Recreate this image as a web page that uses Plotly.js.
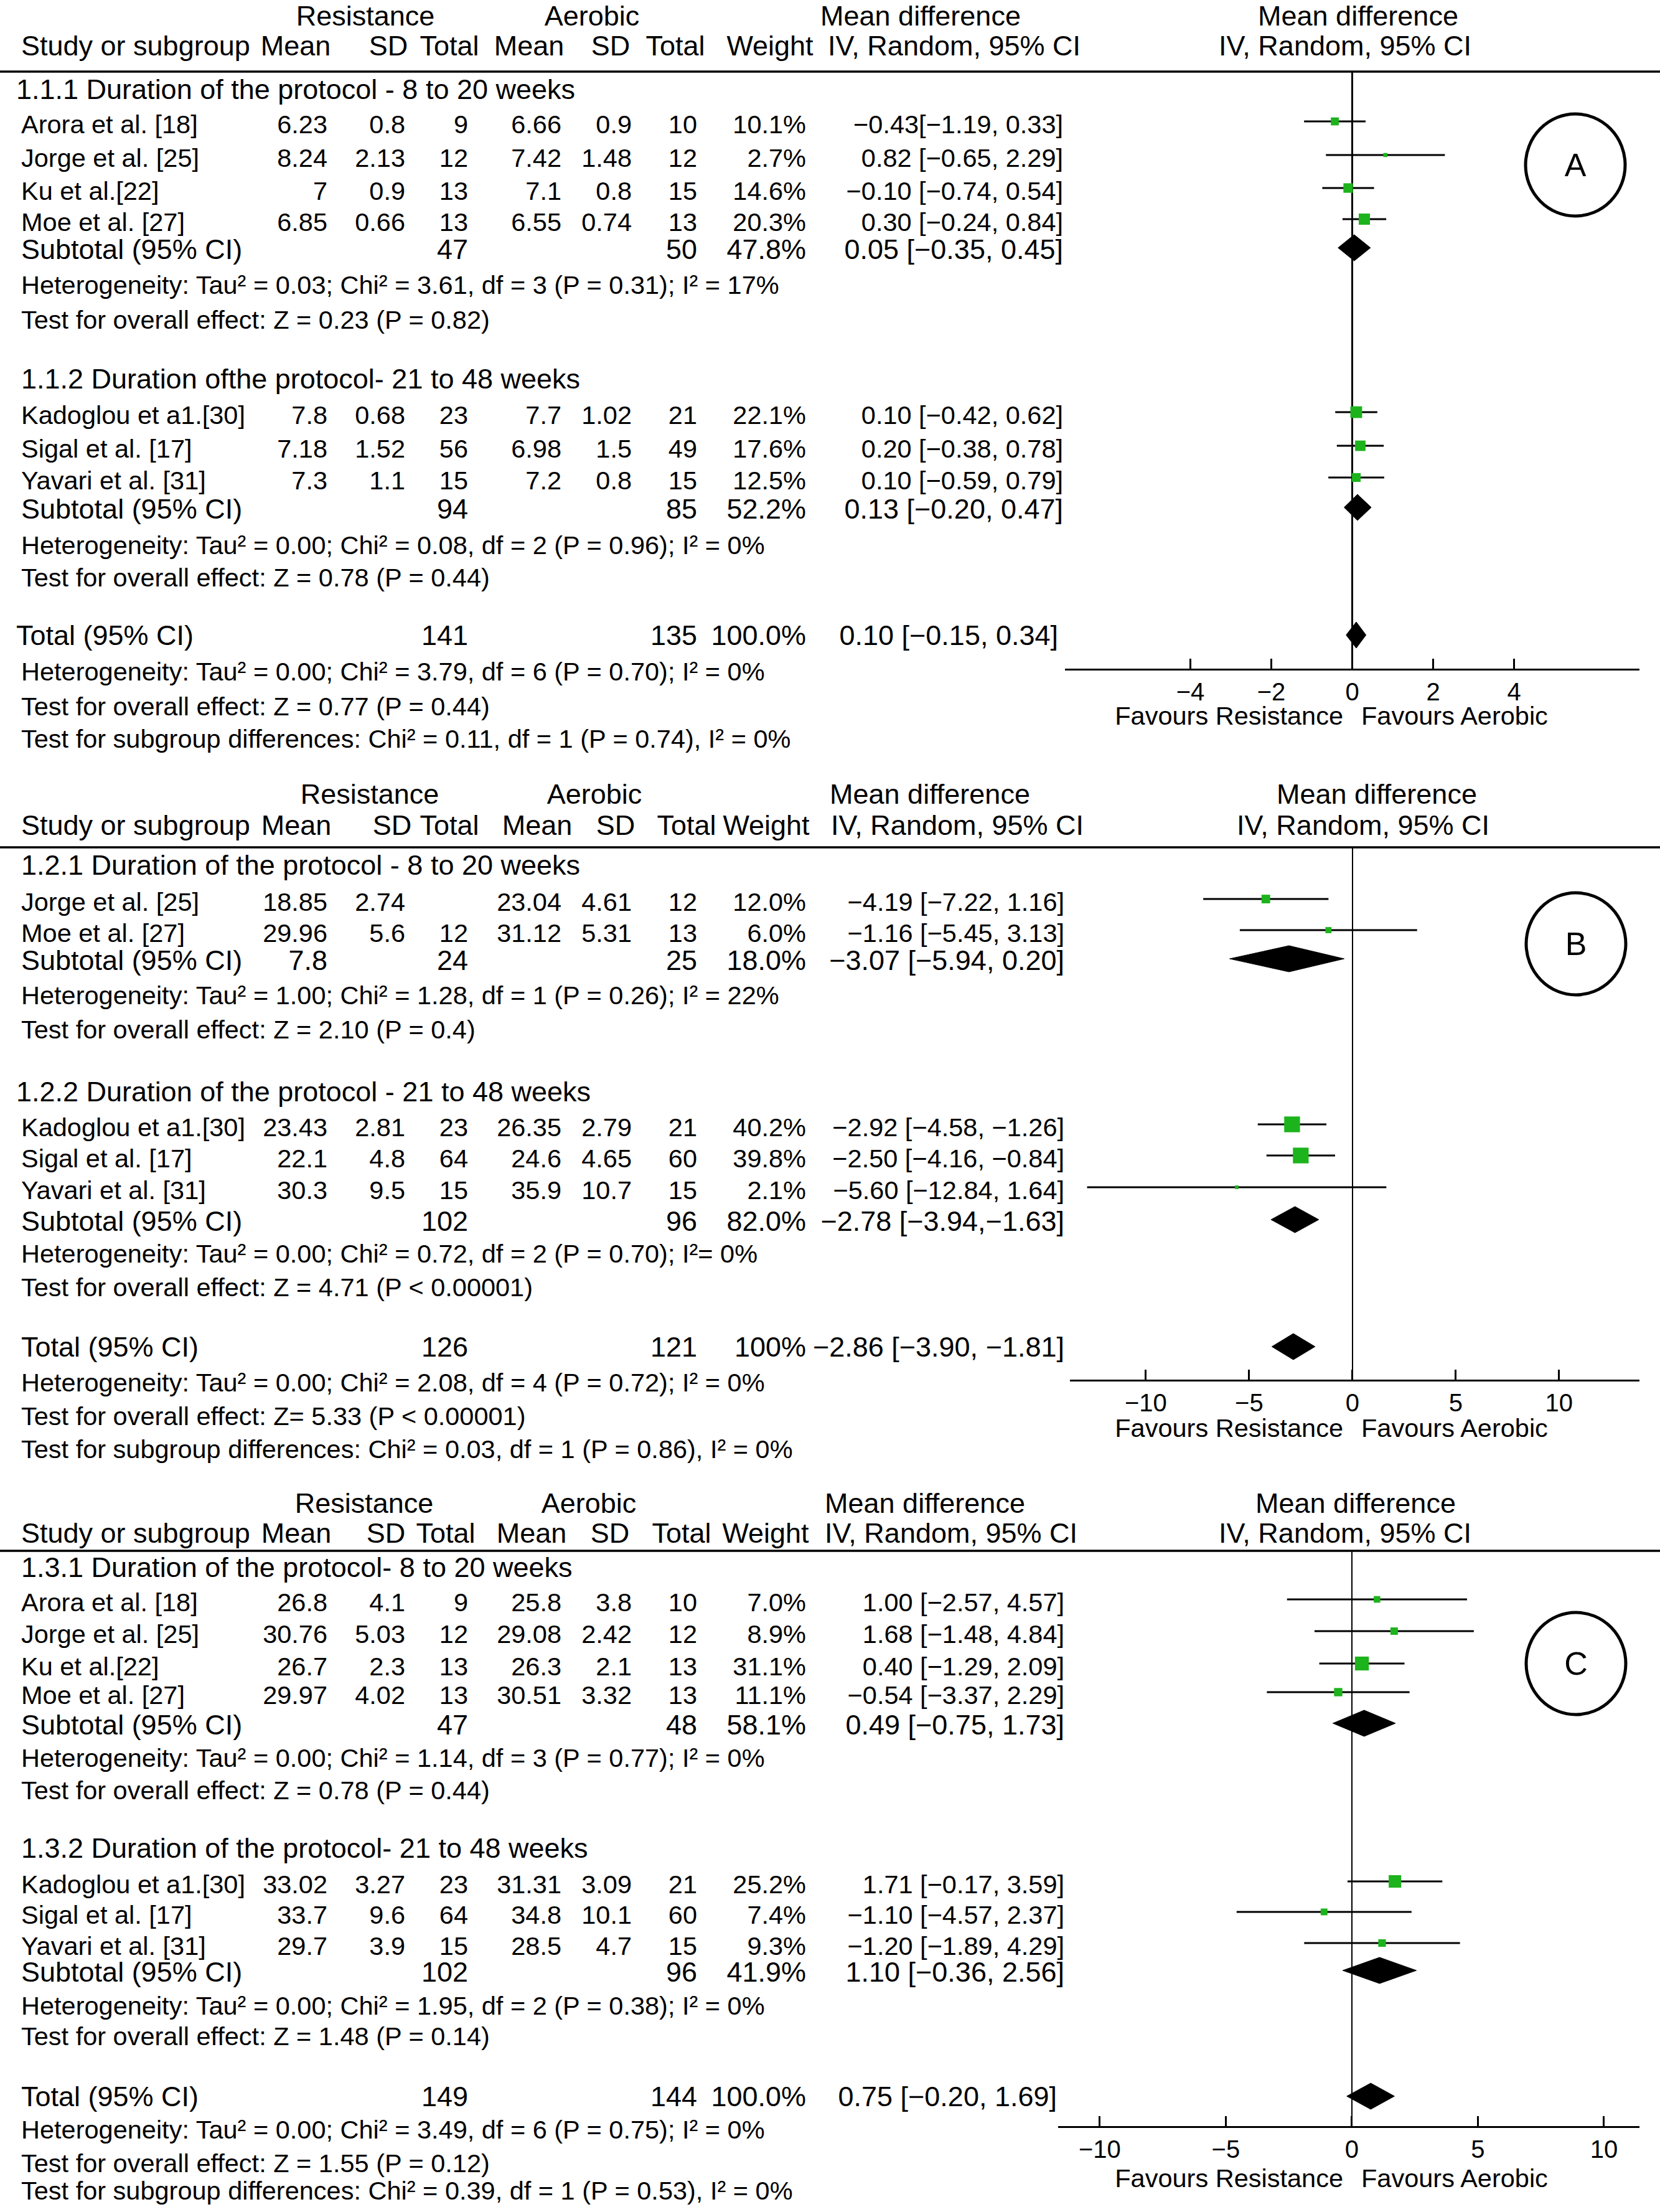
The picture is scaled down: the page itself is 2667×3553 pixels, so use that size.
<!DOCTYPE html>
<html><head><meta charset="utf-8">
<script src="https://cdn.plot.ly/plotly-3.0.1.min.js"></script>
<style>html,body{margin:0;padding:0;background:#fff}</style>
</head><body><div id="chart" style="width:2667px;height:3553px"></div>
<script>
const M = '\u2212';
// ---------------- DATA ----------------
const groupLabels = ['Resistance', 'Aerobic'];
const colHeaders = ['Study or subgroup', 'Mean', 'SD', 'Total', 'Mean', 'SD', 'Total', 'Weight', 'IV, Random, 95% CI'];
const mdHeader = ['Mean difference', 'IV, Random, 95% CI'];
const favourLabels = ['Favours Resistance', 'Favours Aerobic'];
const panelLetters = ['A', 'B', 'C'];
const ticksA = [-4, -2, 0, 2, 4];
const ticksB = [-10, -5, 0, 5, 10];
const ticksC = [-10, -5, 0, 5, 10];

// ----- Panel A (1.1) -----
const a1Title = '1.1.1 Duration of the protocol - 8 to 20 weeks';
const a1Study = ['Arora et al. [18]', 'Jorge et al. [25]', 'Ku et al.[22]', 'Moe et al. [27]'];
const a1ResMean = ['6.23', '8.24', '7', '6.85'];
const a1ResSD = ['0.8', '2.13', '0.9', '0.66'];
const a1ResN = ['9', '12', '13', '13'];
const a1AerMean = ['6.66', '7.42', '7.1', '6.55'];
const a1AerSD = ['0.9', '1.48', '0.8', '0.74'];
const a1AerN = ['10', '12', '15', '13'];
const a1Weight = ['10.1%', '2.7%', '14.6%', '20.3%'];
const a1CI = [M+'0.43['+M+'1.19, 0.33]', '0.82 ['+M+'0.65, 2.29]', M+'0.10 ['+M+'0.74, 0.54]', '0.30 ['+M+'0.24, 0.84]'];
const a1MD = [-0.43, 0.82, -0.10, 0.30];
const a1Lo = [-1.19, -0.65, -0.74, -0.24];
const a1Hi = [0.33, 2.29, 0.54, 0.84];
const a1Sub = ['', '47', '50', '47.8%', '0.05 ['+M+'0.35, 0.45]'];
const a1SubMD = [-0.35, 0.05, 0.45];
const a1Het = 'Heterogeneity: Tau\u00b2 = 0.03; Chi\u00b2 = 3.61, df = 3 (P = 0.31); I\u00b2 = 17%';
const a1Test = 'Test for overall effect: Z = 0.23 (P = 0.82)';

const a2Title = '1.1.2 Duration ofthe protocol- 21 to 48 weeks';
const a2Study = ['Kadoglou et a1.[30]', 'Sigal et al. [17]', 'Yavari et al. [31]'];
const a2ResMean = ['7.8', '7.18', '7.3'];
const a2ResSD = ['0.68', '1.52', '1.1'];
const a2ResN = ['23', '56', '15'];
const a2AerMean = ['7.7', '6.98', '7.2'];
const a2AerSD = ['1.02', '1.5', '0.8'];
const a2AerN = ['21', '49', '15'];
const a2Weight = ['22.1%', '17.6%', '12.5%'];
const a2CI = ['0.10 ['+M+'0.42, 0.62]', '0.20 ['+M+'0.38, 0.78]', '0.10 ['+M+'0.59, 0.79]'];
const a2MD = [0.10, 0.20, 0.10];
const a2Lo = [-0.42, -0.38, -0.59];
const a2Hi = [0.62, 0.78, 0.79];
const a2Sub = ['', '94', '85', '52.2%', '0.13 ['+M+'0.20, 0.47]'];
const a2SubMD = [-0.20, 0.13, 0.47];
const a2Het = 'Heterogeneity: Tau\u00b2 = 0.00; Chi\u00b2 = 0.08, df = 2 (P = 0.96); I\u00b2 = 0%';
const a2Test = 'Test for overall effect: Z = 0.78 (P = 0.44)';

const aTotal = ['141', '135', '100.0%', '0.10 ['+M+'0.15, 0.34]'];
const aTotalMD = [-0.15, 0.10, 0.34];
const aTotHet = 'Heterogeneity: Tau\u00b2 = 0.00; Chi\u00b2 = 3.79, df = 6 (P = 0.70); I\u00b2 = 0%';
const aTotTest = 'Test for overall effect: Z = 0.77 (P = 0.44)';
const aSubgrp = 'Test for subgroup differences: Chi\u00b2 = 0.11, df = 1 (P = 0.74), I\u00b2 = 0%';

// ----- Panel B (1.2) -----
const b1Title = '1.2.1 Duration of the protocol - 8 to 20 weeks';
const b1Study = ['Jorge et al. [25]', 'Moe et al. [27]'];
const b1ResMean = ['18.85', '29.96'];
const b1ResSD = ['2.74', '5.6'];
const b1ResN = ['', '12'];
const b1AerMean = ['23.04', '31.12'];
const b1AerSD = ['4.61', '5.31'];
const b1AerN = ['12', '13'];
const b1Weight = ['12.0%', '6.0%'];
const b1CI = [M+'4.19 ['+M+'7.22, 1.16]', M+'1.16 ['+M+'5.45, 3.13]'];
const b1MD = [-4.19, -1.16];
const b1Lo = [-7.22, -5.45];
const b1Hi = [-1.16, 3.13];
const b1Sub = ['7.8', '24', '25', '18.0%', M+'3.07 ['+M+'5.94, 0.20]'];
const b1SubMD = [-5.94, -3.07, -0.40];
const b1Het = 'Heterogeneity: Tau\u00b2 = 1.00; Chi\u00b2 = 1.28, df = 1 (P = 0.26); I\u00b2 = 22%';
const b1Test = 'Test for overall effect: Z = 2.10 (P = 0.4)';

const b2Title = '1.2.2 Duration of the protocol - 21 to 48 weeks';
const b2Study = ['Kadoglou et a1.[30]', 'Sigal et al. [17]', 'Yavari et al. [31]'];
const b2ResMean = ['23.43', '22.1', '30.3'];
const b2ResSD = ['2.81', '4.8', '9.5'];
const b2ResN = ['23', '64', '15'];
const b2AerMean = ['26.35', '24.6', '35.9'];
const b2AerSD = ['2.79', '4.65', '10.7'];
const b2AerN = ['21', '60', '15'];
const b2Weight = ['40.2%', '39.8%', '2.1%'];
const b2CI = [M+'2.92 ['+M+'4.58, '+M+'1.26]', M+'2.50 ['+M+'4.16, '+M+'0.84]', M+'5.60 ['+M+'12.84, 1.64]'];
const b2MD = [-2.92, -2.50, -5.60];
const b2Lo = [-4.58, -4.16, -12.84];
const b2Hi = [-1.26, -0.84, 1.64];
const b2Sub = ['', '102', '96', '82.0%', M+'2.78 ['+M+'3.94,'+M+'1.63]'];
const b2SubMD = [-3.94, -2.78, -1.63];
const b2Het = 'Heterogeneity: Tau\u00b2 = 0.00; Chi\u00b2 = 0.72, df = 2 (P = 0.70); I\u00b2= 0%';
const b2Test = 'Test for overall effect: Z = 4.71 (P &lt; 0.00001)';

const bTotal = ['126', '121', '100%', M+'2.86 ['+M+'3.90, '+M+'1.81]'];
const bTotalMD = [-3.90, -2.86, -1.81];
const bTotHet = 'Heterogeneity: Tau\u00b2 = 0.00; Chi\u00b2 = 2.08, df = 4 (P = 0.72); I\u00b2 = 0%';
const bTotTest = 'Test for overall effect: Z= 5.33 (P &lt; 0.00001)';
const bSubgrp = 'Test for subgroup differences: Chi\u00b2 = 0.03, df = 1 (P = 0.86), I\u00b2 = 0%';

// ----- Panel C (1.3) -----
const c1Title = '1.3.1 Duration of the protocol- 8 to 20 weeks';
const c1Study = ['Arora et al. [18]', 'Jorge et al. [25]', 'Ku et al.[22]', 'Moe et al. [27]'];
const c1ResMean = ['26.8', '30.76', '26.7', '29.97'];
const c1ResSD = ['4.1', '5.03', '2.3', '4.02'];
const c1ResN = ['9', '12', '13', '13'];
const c1AerMean = ['25.8', '29.08', '26.3', '30.51'];
const c1AerSD = ['3.8', '2.42', '2.1', '3.32'];
const c1AerN = ['10', '12', '13', '13'];
const c1Weight = ['7.0%', '8.9%', '31.1%', '11.1%'];
const c1CI = ['1.00 ['+M+'2.57, 4.57]', '1.68 ['+M+'1.48, 4.84]', '0.40 ['+M+'1.29, 2.09]', M+'0.54 ['+M+'3.37, 2.29]'];
const c1MD = [1.00, 1.68, 0.40, -0.54];
const c1Lo = [-2.57, -1.48, -1.29, -3.37];
const c1Hi = [4.57, 4.84, 2.09, 2.29];
const c1Sub = ['', '47', '48', '58.1%', '0.49 ['+M+'0.75, 1.73]'];
const c1SubMD = [-0.75, 0.49, 1.73];
const c1Het = 'Heterogeneity: Tau\u00b2 = 0.00; Chi\u00b2 = 1.14, df = 3 (P = 0.77); I\u00b2 = 0%';
const c1Test = 'Test for overall effect: Z = 0.78 (P = 0.44)';

const c2Title = '1.3.2 Duration of the protocol- 21 to 48 weeks';
const c2Study = ['Kadoglou et a1.[30]', 'Sigal et al. [17]', 'Yavari et al. [31]'];
const c2ResMean = ['33.02', '33.7', '29.7'];
const c2ResSD = ['3.27', '9.6', '3.9'];
const c2ResN = ['23', '64', '15'];
const c2AerMean = ['31.31', '34.8', '28.5'];
const c2AerSD = ['3.09', '10.1', '4.7'];
const c2AerN = ['21', '60', '15'];
const c2Weight = ['25.2%', '7.4%', '9.3%'];
const c2CI = ['1.71 ['+M+'0.17, 3.59]', M+'1.10 ['+M+'4.57, 2.37]', M+'1.20 ['+M+'1.89, 4.29]'];
const c2MD = [1.71, -1.10, 1.20];
const c2Lo = [-0.17, -4.57, -1.89];
const c2Hi = [3.59, 2.37, 4.29];
const c2Sub = ['', '102', '96', '41.9%', '1.10 ['+M+'0.36, 2.56]'];
const c2SubMD = [-0.36, 1.10, 2.56];
const c2Het = 'Heterogeneity: Tau\u00b2 = 0.00; Chi\u00b2 = 1.95, df = 2 (P = 0.38); I\u00b2 = 0%';
const c2Test = 'Test for overall effect: Z = 1.48 (P = 0.14)';

const cTotal = ['149', '144', '100.0%', '0.75 ['+M+'0.20, 1.69]'];
const cTotalMD = [-0.20, 0.75, 1.69];
const cTotHet = 'Heterogeneity: Tau\u00b2 = 0.00; Chi\u00b2 = 3.49, df = 6 (P = 0.75); I\u00b2 = 0%';
const cTotTest = 'Test for overall effect: Z = 1.55 (P = 0.12)';
const cSubgrp = 'Test for subgroup differences: Chi\u00b2 = 0.39, df = 1 (P = 0.53), I\u00b2 = 0%';

// ---------------- assemble data objects ----------------
function G(title, study, rm, rsd, rn, am, asd, an, w, ci, md, lo, hi, sub, subMD, het, test) {
  return {title, study, cols: [rm, rsd, rn, am, asd, an, w], ci, md, lo, hi, sub, subMD, het, test};
}
const DATA = [
  {groups: [G(a1Title, a1Study, a1ResMean, a1ResSD, a1ResN, a1AerMean, a1AerSD, a1AerN, a1Weight, a1CI, a1MD, a1Lo, a1Hi, a1Sub, a1SubMD, a1Het, a1Test),
            G(a2Title, a2Study, a2ResMean, a2ResSD, a2ResN, a2AerMean, a2AerSD, a2AerN, a2Weight, a2CI, a2MD, a2Lo, a2Hi, a2Sub, a2SubMD, a2Het, a2Test)],
   total: aTotal, totalMD: aTotalMD, het: aTotHet, test: aTotTest, subgrp: aSubgrp, ticks: ticksA},
  {groups: [G(b1Title, b1Study, b1ResMean, b1ResSD, b1ResN, b1AerMean, b1AerSD, b1AerN, b1Weight, b1CI, b1MD, b1Lo, b1Hi, b1Sub, b1SubMD, b1Het, b1Test),
            G(b2Title, b2Study, b2ResMean, b2ResSD, b2ResN, b2AerMean, b2AerSD, b2AerN, b2Weight, b2CI, b2MD, b2Lo, b2Hi, b2Sub, b2SubMD, b2Het, b2Test)],
   total: bTotal, totalMD: bTotalMD, het: bTotHet, test: bTotTest, subgrp: bSubgrp, ticks: ticksB},
  {groups: [G(c1Title, c1Study, c1ResMean, c1ResSD, c1ResN, c1AerMean, c1AerSD, c1AerN, c1Weight, c1CI, c1MD, c1Lo, c1Hi, c1Sub, c1SubMD, c1Het, c1Test),
            G(c2Title, c2Study, c2ResMean, c2ResSD, c2ResN, c2AerMean, c2AerSD, c2AerN, c2Weight, c2CI, c2MD, c2Lo, c2Hi, c2Sub, c2SubMD, c2Het, c2Test)],
   total: cTotal, totalMD: cTotalMD, het: cTotHet, test: cTotTest, subgrp: cSubgrp, ticks: ticksC}
];

// ---------------- LAYOUT POSITIONS (pixels) ----------------
const W = 2667, H = 3553;
const FONT = 'Liberation Sans, Arial, Helvetica, sans-serif';
const FS = 41.5, FSH = 45, FSS = 45;   // body, header, subtotal/total rows
const TEXT_DY = 5;
const COLX = [526, 651, 752, 902, 1015, 1120, 1295];
const STUDYX = 34;
const POS = [
  {hdr1: 25, hdr2: 73, rule: 115, sec: [143, 608], secX: [26, 34], rows: [[199, 253, 306, 356], [666, 720, 771]],
   sub: [400, 817], het: [457, 875], test: [513, 927], total: 1020, totalX: 26, hetT: 1078, testT: 1134, subgrp: 1186,
   axis: 1074, fav: 1149, circle: [2531, 265], xdom: [1711, 2634], xr: [-7.1, 7.1], ciX: 1708, totCiX: 1700,
   h1: [587, 951, 1479], h2: [475, 624, 722, 850, 981, 1085, 1237, 1533], rh: [2182, 2161], lw: 3},
  {hdr1: 1275, hdr2: 1325, rule: 1361, sec: [1389, 1753], secX: [34, 26], rows: [[1448, 1498], [1810, 1860, 1911]],
   sub: [1542, 1961], het: [1598, 2013], test: [1653, 2067], total: 2163, totalX: 34, hetT: 2220, testT: 2274, subgrp: 2327,
   axis: 2216, fav: 2293, circle: [2532, 1516], xdom: [1719, 2634], xr: [-13.67, 13.89], ciX: 1710, totCiX: 1710,
   h1: [594, 955, 1494], h2: [476, 630, 722, 863, 989, 1103, 1231, 1538], rh: [2212, 2190], lw: 2.5},
  {hdr1: 2414, hdr2: 2462, rule: 2491, sec: [2517, 2968], secX: [34, 34], rows: [[2573, 2624, 2676, 2722], [3026, 3075, 3125]],
   sub: [2770, 3167], het: [2823, 3221], test: [2875, 3270], total: 3367, totalX: 34, hetT: 3420, testT: 3474, subgrp: 3518,
   axis: 3415, fav: 3498, circle: [2532, 2672], xdom: [1700, 2634], xr: [-11.65, 11.41], ciX: 1710, totCiX: 1698,
   h1: [585, 946, 1486], h2: [476, 620, 716, 854, 980, 1095, 1230, 1528], rh: [2178, 2161], lw: 2.5}
];
const MARK_DY = -4, DIA_H = 21, GREEN = '#1db31d';

// ---------------- BUILD ----------------
const Lt = {x: [], y: [], t: [], s: []}, Rt = {x: [], y: [], t: [], s: []}, Ct = {x: [], y: [], t: [], s: []};
function add(T, x, y, t, s) {
  if (t === '' || t == null) return;
  T.x.push(x); T.y.push(y + TEXT_DY); T.t.push(t); T.s.push(s || FS);
}

const traces = [];
const shapes = [];
const layout = {
  width: W, height: H, margin: {l: 0, r: 0, t: 0, b: 0}, paper_bgcolor: '#fff', plot_bgcolor: 'rgba(0,0,0,0)',
  showlegend: false, hovermode: false,
  xaxis: {domain: [0, 1], range: [0, W], visible: false, fixedrange: true},
  yaxis: {domain: [0, 1], range: [H, 0], visible: false, fixedrange: true},
  shapes: shapes
};

DATA.forEach((D, p) => {
  const P = POS[p];
  const xa = 'x' + (p + 2), ya = 'y' + (p + 2);
  // headers
  add(Ct, P.h1[0], P.hdr1, groupLabels[0], FSH);
  add(Ct, P.h1[1], P.hdr1, groupLabels[1], FSH);
  add(Ct, P.h1[2], P.hdr1, mdHeader[0], FSH);
  add(Lt, STUDYX, P.hdr2, colHeaders[0], FSH);
  for (let k = 1; k < colHeaders.length; k++) add(Ct, P.h2[k - 1], P.hdr2, colHeaders[k], FSH);
  add(Ct, P.rh[0], P.hdr1, mdHeader[0], FSH);
  add(Ct, P.rh[1], P.hdr2, mdHeader[1], FSH);
  shapes.push({type: 'line', xref: 'paper', yref: 'y', x0: 0, x1: 1, y0: P.rule, y1: P.rule, line: {color: '#000', width: 3.5}});
  // circle label
  shapes.push({type: 'circle', xref: 'x', yref: 'y', x0: P.circle[0] - 80, x1: P.circle[0] + 80, y0: P.circle[1] - 82, y1: P.circle[1] + 82, line: {color: '#000', width: 5}});
  add(Ct, P.circle[0], P.circle[1], panelLetters[p], 52);

  const ciX = [], ciY = [], sqX = [], sqY = [], sqS = [];
  const diamonds = [];
  D.groups.forEach((g, gi) => {
    add(Lt, P.secX[gi], P.sec[gi], g.title, FSS);
    g.study.forEach((s, i) => {
      const y = P.rows[gi][i];
      add(Lt, STUDYX, y, s);
      g.cols.forEach((col, k) => add(Rt, COLX[k], y, col[i]));
      add(Rt, P.ciX, y, g.ci[i]);
      ciX.push(g.lo[i], g.hi[i], null); ciY.push(y + MARK_DY, y + MARK_DY, null);
      sqX.push(g.md[i]); sqY.push(y + MARK_DY);
      sqS.push(4.0 * Math.sqrt(parseFloat(g.cols[6][i])));
    });
    const ys = P.sub[gi];
    add(Lt, STUDYX, ys, 'Subtotal (95% CI)', FSS);
    add(Rt, COLX[0], ys, g.sub[0], FSS);
    add(Rt, COLX[2], ys, g.sub[1], FSS);
    add(Rt, COLX[5], ys, g.sub[2], FSS);
    add(Rt, COLX[6], ys, g.sub[3], FSS);
    add(Rt, P.ciX, ys, g.sub[4], FSS);
    diamonds.push([g.subMD, ys + MARK_DY / 2]);
    add(Lt, STUDYX, P.het[gi], g.het);
    add(Lt, STUDYX, P.test[gi], g.test);
  });
  add(Lt, P.totalX, P.total, 'Total (95% CI)', FSS);
  add(Rt, COLX[2], P.total, D.total[0], FSS);
  add(Rt, COLX[5], P.total, D.total[1], FSS);
  add(Rt, COLX[6], P.total, D.total[2], FSS);
  add(Rt, P.totCiX, P.total, D.total[3], FSS);
  diamonds.push([D.totalMD, P.total]);
  add(Lt, STUDYX, P.hetT, D.het);
  add(Lt, STUDYX, P.testT, D.test);
  add(Lt, STUDYX, P.subgrp, D.subgrp);
  // favours labels
  add(Rt, 2158, P.fav, favourLabels[0]);
  add(Lt, 2187, P.fav, favourLabels[1]);

  // forest axes
  layout['xaxis' + (p + 2)] = {
    domain: [P.xdom[0] / W, P.xdom[1] / W], range: P.xr, anchor: ya, fixedrange: true,
    showline: true, linecolor: '#000', linewidth: 3, ticks: 'inside', ticklen: 16, tickwidth: 3, tickcolor: '#000',
    tickvals: D.ticks, showgrid: false, zeroline: true, zerolinecolor: '#000', zerolinewidth: P.lw,
    tickfont: {family: FONT, size: 40, color: '#000'}, ticklabelstandoff: 0
  };
  layout['yaxis' + (p + 2)] = {
    domain: [1 - P.axis / H, 1 - P.rule / H], range: [P.axis, P.rule], anchor: xa, visible: false, fixedrange: true
  };
  traces.push({type: 'scatter', mode: 'lines', x: ciX, y: ciY, xaxis: xa, yaxis: ya, line: {color: '#000', width: 3}, cliponaxis: false});
  traces.push({type: 'scatter', mode: 'markers', x: sqX, y: sqY, xaxis: xa, yaxis: ya, cliponaxis: false,
    marker: {symbol: 'square', color: GREEN, size: sqS, opacity: 1, line: {width: 0}}});
  diamonds.forEach(([v, yc]) => {
    traces.push({type: 'scatter', mode: 'lines', fill: 'toself', fillcolor: '#000', xaxis: xa, yaxis: ya, cliponaxis: false,
      x: [v[0], v[1], v[2], v[1], v[0]], y: [yc, yc - DIA_H, yc, yc + DIA_H, yc], line: {color: '#000', width: 1}});
  });
});

function textTrace(T, pos) {
  return {type: 'scatter', mode: 'text', x: T.x, y: T.y, text: T.t, textposition: pos, cliponaxis: false,
    textfont: {family: FONT, size: T.s, color: '#000'}, xaxis: 'x', yaxis: 'y'};
}
traces.unshift(textTrace(Lt, 'middle right'), textTrace(Rt, 'middle left'), textTrace(Ct, 'middle center'));

Plotly.newPlot('chart', traces, layout, {displayModeBar: false, staticPlot: true});
</script>
</body></html>
